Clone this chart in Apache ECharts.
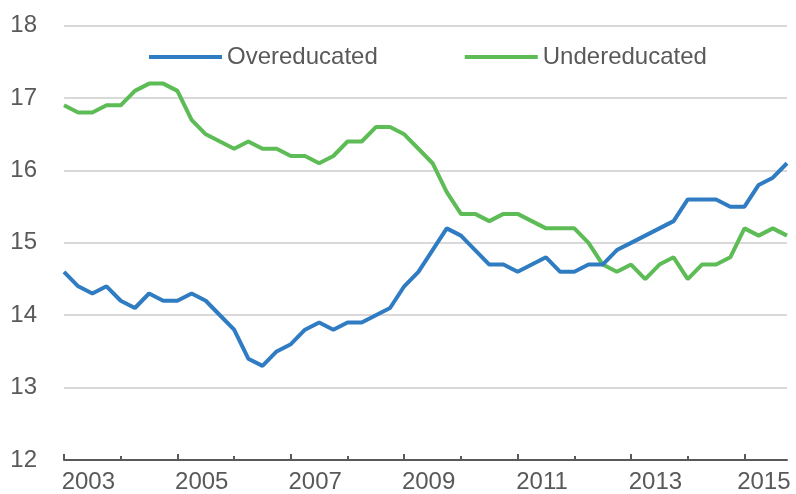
<!DOCTYPE html>
<html>
<head>
<meta charset="utf-8">
<script src="https://cdn.jsdelivr.net/npm/echarts@6/dist/echarts.min.js"></script>
<style>
html,body{margin:0;padding:0;background:#fff;}
#chart{width:796px;height:494px;}
</style>
</head>
<body>
<div id="chart"></div>
<script>
// Quarterly categories 2003Q1 .. 2015Q4
const years = [2003,2004,2005,2006,2007,2008,2009,2010,2011,2012,2013,2014,2015];
const quarters = ['Q1','Q2','Q3','Q4'];
const categories = [];
years.forEach(y => quarters.forEach(q => categories.push(y + q)));

const yTicks = [12,13,14,15,16,17,18];

const overeducated = [
  14.6,14.4,14.3,14.4, 14.2,14.1,14.3,14.2, 14.2,14.3,14.2,14.0,
  13.8,13.4,13.3,13.5, 13.6,13.8,13.9,13.8, 13.9,13.9,14.0,14.1,
  14.4,14.6,14.9,15.2, 15.1,14.9,14.7,14.7, 14.6,14.7,14.8,14.6,
  14.6,14.7,14.7,14.9, 15.0,15.1,15.2,15.3, 15.6,15.6,15.6,15.5,
  15.5,15.8,15.9,16.1
];
const undereducated = [
  16.9,16.8,16.8,16.9, 16.9,17.1,17.2,17.2, 17.1,16.7,16.5,16.4,
  16.3,16.4,16.3,16.3, 16.2,16.2,16.1,16.2, 16.4,16.4,16.6,16.6,
  16.5,16.3,16.1,15.7, 15.4,15.4,15.3,15.4, 15.4,15.3,15.2,15.2,
  15.2,15.0,14.7,14.6, 14.7,14.5,14.7,14.8, 14.5,14.7,14.7,14.8,
  15.2,15.1,15.2,15.1
];

const seriesNames = ['Overeducated','Undereducated'];
const colors = ['#2f7cc2','#5dbc55'];
const textColor = '#595959';
const font = 'Liberation Sans, Arial, sans-serif';

const catData = categories.map((c, i) => {
  if (i === categories.length - 2) {
    return { value: c, textStyle: { padding: [0, 18, 0, 0] } };
  }
  return c;
});

const chart = echarts.init(document.getElementById('chart'), null, {renderer:'canvas'});
chart.setOption({
  animation: false,
  backgroundColor: '#ffffff',
  color: colors,
  grid: { left: 64, right: 9, top: 25.7, bottom: 33, containLabel: false },
  legend: {
    data: seriesNames,
    left: 144,
    top: 40,
    icon: 'rect',
    itemWidth: 73,
    itemHeight: 4,
    itemGap: 87,
    textStyle: { color: textColor, fontSize: 24, fontFamily: font }
  },
  xAxis: [{
    type: 'category',
    data: catData,
    boundaryGap: false,
    axisLine: { show: true, lineStyle: { color: '#595959', width: 2 } },
    axisTick: {
      show: true, inside: true, length: 4,
      interval: (i) => i % 4 === 0,
      lineStyle: { color: '#595959', width: 2 }
    },
    axisLabel: {
      interval: (i) => i % 8 === 2,
      formatter: (v) => v.slice(0, 4),
      color: textColor, fontSize: 24, fontFamily: font,
      margin: 10, padding: [0, 8, 0, 0]
    },
    splitLine: { show: false }
  }, {
    type: 'category',
    data: categories,
    boundaryGap: false,
    position: 'bottom',
    axisLine: { show: false },
    axisTick: {
      show: true, inside: true, length: 6,
      interval: (i) => i % 8 === 0,
      lineStyle: { color: '#595959', width: 2 }
    },
    axisLabel: { show: false },
    splitLine: { show: false }
  }],
  yAxis: {
    type: 'value',
    min: yTicks[0],
    max: yTicks[yTicks.length - 1],
    interval: 1,
    axisLine: { show: false },
    axisTick: { show: false },
    axisLabel: { color: textColor, fontSize: 24, fontFamily: font, margin: 27 },
    splitLine: { show: true, lineStyle: { color: '#d9d9d9', width: 2 } }
  },
  series: [{
    name: seriesNames[0],
    type: 'line',
    data: overeducated,
    showSymbol: false,
    symbol: 'none',
    lineStyle: { width: 4, color: colors[0] },
    z: 3
  }, {
    name: seriesNames[1],
    type: 'line',
    data: undereducated,
    showSymbol: false,
    symbol: 'none',
    lineStyle: { width: 4, color: colors[1] },
    z: 2
  }]
});
</script>
</body>
</html>
